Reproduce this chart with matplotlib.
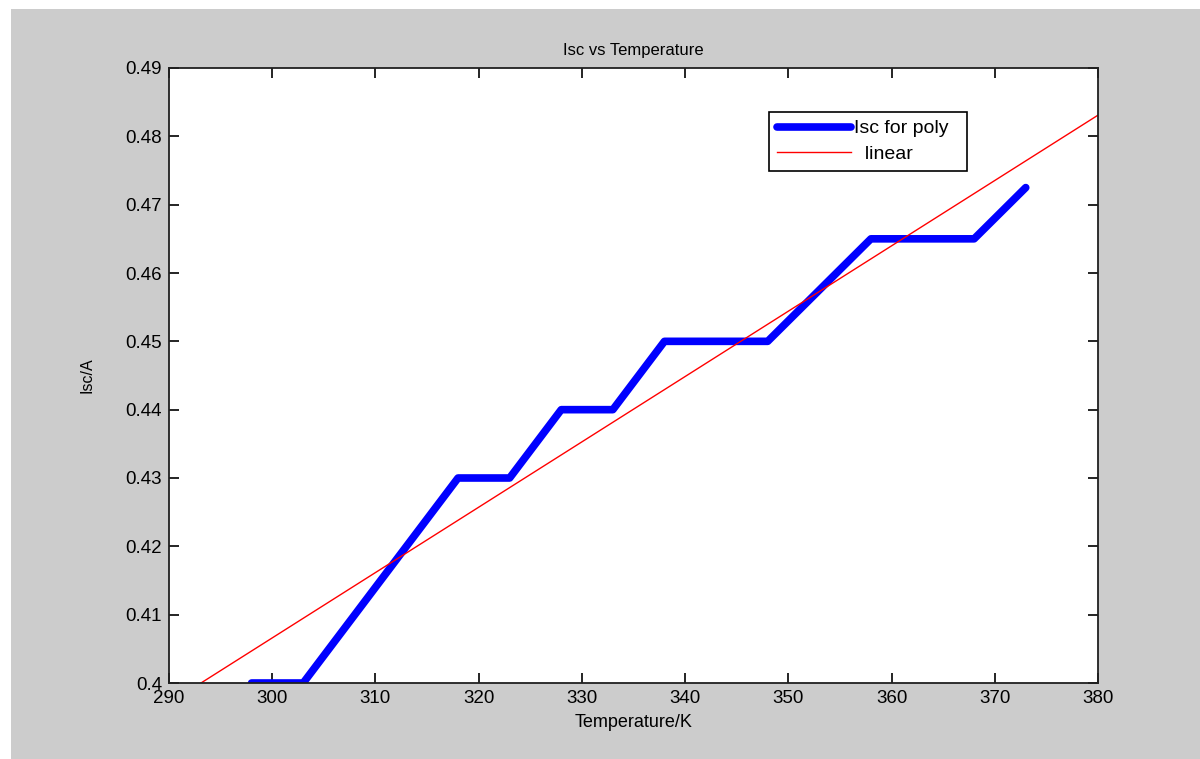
import numpy as np
import matplotlib.pyplot as plt
from matplotlib.patches import Rectangle

# Isc for poly (stepped measurement)
temp = [298, 303, 308, 313, 318, 323, 328, 333, 338, 343, 348, 353, 358, 363, 368, 373]
isc = [0.400, 0.400, 0.410, 0.420, 0.430, 0.430, 0.440, 0.440, 0.450, 0.450, 0.450,
       0.4575, 0.465, 0.465, 0.465, 0.4725]

# linear fit, drawn across the axis range
lin_temp = [293.1, 380]
lin_isc = [0.400, 0.4831]

plt.rcParams.update({"font.family": "Liberation Sans", "font.size": 13})

fig = plt.figure(figsize=(12, 7.59), dpi=100, facecolor="white")
fig.patches.append(Rectangle((11 / 1200, 0), 1 - 11 / 1200, 750 / 759,
                             transform=fig.transFigure, facecolor="#cccccc",
                             edgecolor="none", zorder=-10))
ax = fig.add_axes([169 / 1200, 76 / 759, 929 / 1200, 615 / 759])
ax.set_facecolor("white")

ax.plot(temp, isc, color="#0000ff", lw=5.5, solid_capstyle="round",
        label="Isc for poly  ")
ax.plot(lin_temp, lin_isc, color="#ff0000", lw=1, label="  linear")

ax.set_xlim(290, 380)
ax.set_ylim(0.4, 0.49)
ax.set_xticks(np.arange(290, 381, 10))
ax.set_yticks(np.arange(0.40, 0.491, 0.01))
ax.set_yticklabels(["0.4", "0.41", "0.42", "0.43", "0.44", "0.45",
                    "0.46", "0.47", "0.48", "0.49"])
ax.tick_params(direction="in", length=7, width=1.2, top=True, right=True,
               labelsize=13.5, pad=5)
for s in ax.spines.values():
    s.set_linewidth(1.3)
    s.set_color("#202020")

ax.set_title("Isc vs Temperature", fontsize=12, pad=9)
ax.set_xlabel("Temperature/K", fontsize=13, labelpad=5)
ax.set_ylabel("Isc/A", fontsize=11.5, labelpad=22)

leg = ax.legend(loc="upper left", bbox_to_anchor=(769 / 1200, 1 - 112 / 759),
                bbox_transform=fig.transFigure, fancybox=False, framealpha=1,
                edgecolor="black", handlelength=3.8, handletextpad=0.15,
                borderpad=0.4, labelspacing=0.4, borderaxespad=0,
                fontsize=14)
leg.get_frame().set_linewidth(1.2)

fig.savefig("out.png", dpi=100, facecolor=fig.get_facecolor())
